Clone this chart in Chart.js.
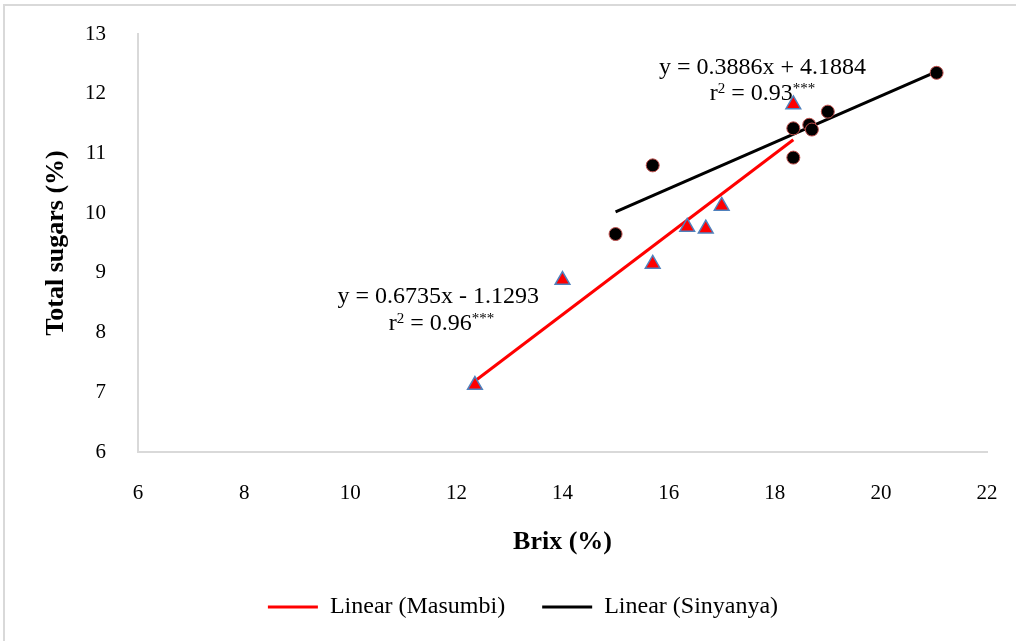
<!DOCTYPE html>
<html>
<head>
<meta charset="utf-8">
<script src="https://cdn.jsdelivr.net/npm/chart.js@4.4.0/dist/chart.umd.min.js"></script>
<style>
  html, body { margin: 0; padding: 0; background: #fff; }
  .container { position: relative; width: 1016px; height: 641px; overflow: hidden; }
  .frame { position: absolute; left: 3px; top: 4px; width: 1100px; height: 700px; border: 2px solid #d9d9d9; }
  #chart { position: absolute; left: 0; top: 0; }
</style>
</head>
<body>
<div class="container">
  <div class="frame"></div>
  <canvas id="chart" width="1016" height="641"></canvas>
</div>
<script>
// values
const masumbiBrix = [12.35, 14.0, 15.7, 16.35, 16.7, 17.0, 18.35];
const masumbiSugars = [7.12, 8.88, 9.15, 9.77, 9.74, 10.12, 11.82];
const sinyanyaBrix = [15.0, 15.7, 18.35, 18.35, 18.65, 18.7, 19.0, 21.05];
const sinyanyaSugars = [9.65, 10.8, 11.42, 10.93, 11.48, 11.4, 11.7, 12.35];

// trendline end points
const masumbiTrendX = [12.35, 18.35];
const masumbiTrendY = [7.19, 11.23];
const sinyanyaTrendX = [15.0, 21.05];
const sinyanyaTrendY = [10.02, 12.37];

const xTicks = [6, 8, 10, 12, 14, 16, 18, 20, 22];
const yTicks = [6, 7, 8, 9, 10, 11, 12, 13];

const FONT = "'Liberation Serif', 'Times New Roman', serif";

const toPoints = (xs, ys) => xs.map((x, i) => ({x: x, y: ys[i]}));

// equation labels, anchored in data units
const equations = [
  {x: 17.77, y: 12.47, runs: [{t: 'y = 0.3886x + 4.1884'}]},
  {x: 17.77, y: 12.03, runs: [{t: 'r'}, {t: '2', small: true}, {t: ' = 0.93'}, {t: '***', small: true}]},
  {x: 11.66, y: 8.63, runs: [{t: 'y = 0.6735x - 1.1293'}]},
  {x: 11.72, y: 8.18, runs: [{t: 'r'}, {t: '2', small: true}, {t: ' = 0.96'}, {t: '***', small: true}]}
];

const equationPlugin = {
  id: 'equations',
  afterDatasetsDraw(chart) {
    const ctx = chart.ctx;
    const xs = chart.scales.x, ys = chart.scales.y;
    const big = 24, small = 15;
    ctx.save();
    ctx.fillStyle = '#000';
    ctx.textBaseline = 'alphabetic';
    ctx.textAlign = 'left';
    equations.forEach(eq => {
      let width = 0;
      eq.runs.forEach(r => {
        ctx.font = (r.small ? small : big) + 'px ' + FONT;
        r.w = ctx.measureText(r.t).width;
        width += r.w;
      });
      let px = xs.getPixelForValue(eq.x) - width / 2;
      const py = ys.getPixelForValue(eq.y) + big * 0.33;
      eq.runs.forEach(r => {
        ctx.font = (r.small ? small : big) + 'px ' + FONT;
        ctx.fillText(r.t, px, r.small ? py - big * 0.3 : py);
        px += r.w;
      });
    });
    ctx.restore();
  }
};

const ctx = document.getElementById('chart');

new Chart(ctx, {
  type: 'scatter',
  data: {
    datasets: [{
      label: 'Masumbi',
      data: toPoints(masumbiBrix, masumbiSugars),
      pointStyle: 'triangle',
      pointRadius: 8.5,
      pointHoverRadius: 8.5,
      backgroundColor: '#ff0000',
      borderColor: '#4f81bd',
      borderWidth: 1.5,
      order: 0
    }, {
      label: 'Sinyanya',
      data: toPoints(sinyanyaBrix, sinyanyaSugars),
      pointStyle: 'circle',
      pointRadius: 6.5,
      pointHoverRadius: 6.5,
      backgroundColor: '#000000',
      borderColor: '#c0504d',
      borderWidth: 1,
      order: 0
    }, {
      label: 'Linear (Masumbi)',
      type: 'line',
      data: toPoints(masumbiTrendX, masumbiTrendY),
      borderColor: '#ff0000',
      backgroundColor: '#ff0000',
      borderWidth: 3,
      pointRadius: 0,
      order: 1
    }, {
      label: 'Linear (Sinyanya)',
      type: 'line',
      data: toPoints(sinyanyaTrendX, sinyanyaTrendY),
      borderColor: '#000000',
      backgroundColor: '#000000',
      borderWidth: 3,
      pointRadius: 0,
      order: 1
    }]
  },
  options: {
    responsive: false,
    animation: false,
    layout: {
      padding: {left: 59, right: 29, top: 34, bottom: 12}
    },
    scales: {
      x: {
        type: 'linear',
        min: 6,
        max: 22,
        afterBuildTicks: s => { s.ticks = xTicks.map(v => ({value: v})); },
        afterFit: s => { s.height = 106; s.paddingLeft = 0; s.paddingRight = 0; },
        grid: {display: false, drawTicks: false},
        border: {display: true, color: '#d9d9d9', width: 2},
        ticks: {
          padding: 29,
          color: '#000',
          font: {family: FONT, size: 21}
        },
        title: {
          display: true,
          text: 'Brix (%)',
          color: '#000',
          padding: 0,
          font: {family: FONT, size: 26, weight: 'bold'}
        }
      },
      y: {
        min: 6,
        max: 13,
        afterBuildTicks: s => { s.ticks = yTicks.map(v => ({value: v})); },
        afterFit: s => { s.width = 79; s.paddingTop = 0; s.paddingBottom = 0; },
        grid: {display: false, drawTicks: false},
        border: {display: true, color: '#d9d9d9', width: 2},
        ticks: {
          padding: 32,
          color: '#000',
          font: {family: FONT, size: 21}
        },
        title: {
          display: true,
          text: 'Total sugars (%)',
          color: '#000',
          padding: {top: -18, bottom: 0},
          font: {family: FONT, size: 26, weight: 'bold'}
        }
      }
    },
    plugins: {
      tooltip: {enabled: false},
      legend: {
        position: 'bottom',
        labels: {
          filter: item => item.text.indexOf('Linear') === 0,
          usePointStyle: true,
          pointStyle: 'line',
          pointStyleWidth: 50,
          padding: 37,
          color: '#000',
          font: {family: FONT, size: 24}
        }
      }
    }
  },
  plugins: [equationPlugin]
});
</script>
</body>
</html>
